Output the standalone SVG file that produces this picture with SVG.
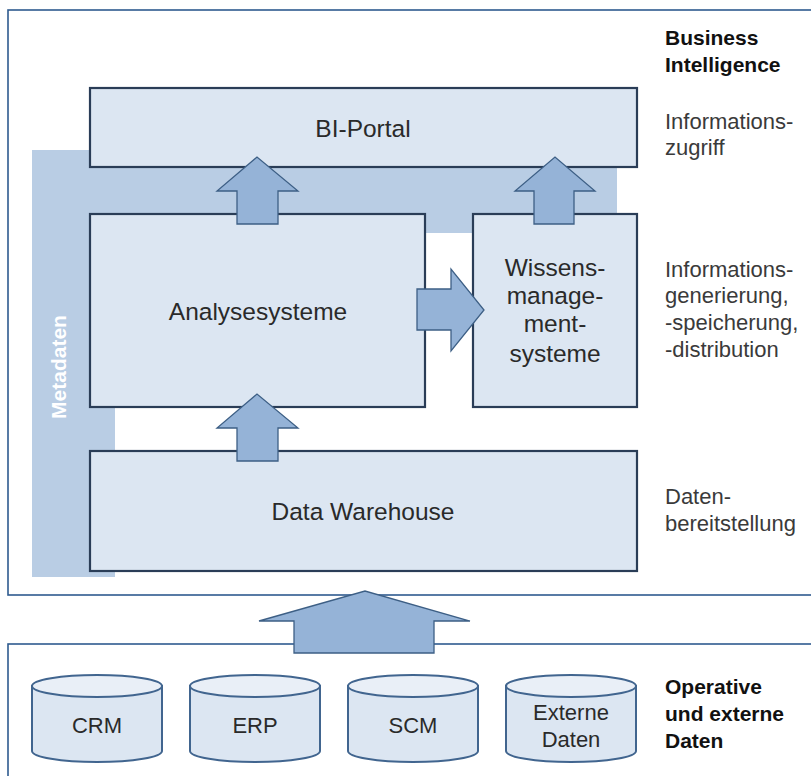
<svg xmlns="http://www.w3.org/2000/svg" width="811" height="776" viewBox="0 0 811 776">
<style>
.frame{fill:#fff;stroke:#2f5b8f;stroke-width:1.6}
.box{fill:#dce6f2;stroke:#2a3d57;stroke-width:2.2}
.meta{fill:#b9cde4}
.arr{fill:#95b3d7;stroke:#3d5f85;stroke-width:1.3;stroke-linejoin:miter}
.cyl{fill:#dce6f2;stroke:#41658f;stroke-width:2}
.cyltop{fill:#e9eff7;stroke:#41658f;stroke-width:2}
.t{font-family:"Liberation Sans",Arial,sans-serif;fill:#2a2a2a;font-size:24.5px;text-anchor:middle}
.c{font-family:"Liberation Sans",Arial,sans-serif;fill:#2a2a2a;font-size:22px;text-anchor:middle}
.lbl{font-family:"Liberation Sans",Arial,sans-serif;fill:#3a3a3a;font-size:22px}
.hd{font-family:"Liberation Sans",Arial,sans-serif;fill:#111;font-size:21px;font-weight:bold}
.mt{font-family:"Liberation Sans",Arial,sans-serif;fill:#fff;font-size:21px;font-weight:bold;text-anchor:middle}
</style>
<rect width="811" height="776" fill="#fff"/>
<rect class="frame" x="8" y="10" width="810" height="585"/>
<rect class="frame" x="8" y="644" width="810" height="140"/>
<g id="metadaten">
<path class="meta" d="M32 150 H617 V233 H115 V577 H32 Z"/>
<text class="mt" transform="translate(66,367) rotate(-90)">Metadaten</text>
</g>
<g id="bi-portal">
<rect class="box" x="90" y="88" width="547" height="79"/>
<text class="t" x="363" y="137">BI-Portal</text>
</g>
<g id="analysesysteme">
<rect class="box" x="90" y="214" width="335" height="193"/>
<text class="t" x="258" y="320">Analysesysteme</text>
</g>
<g id="wissensmanagementsysteme">
<rect class="box" x="473" y="214" width="164" height="193"/>
<text class="t" x="555" y="276">Wissens-</text>
<text class="t" x="555" y="304">manage-</text>
<text class="t" x="555" y="332">ment-</text>
<text class="t" x="555" y="362">systeme</text>
</g>
<g id="data-warehouse">
<rect class="box" x="90" y="451" width="547" height="120"/>
<text class="t" x="363" y="520">Data Warehouse</text>
</g>
<g id="connectors">
<path class="arr" d="M237 224 V191 H217 L257 157 L298 191 H278 V224 Z"/>
<path class="arr" d="M534 224 V191 H515 L555 157 L595 191 H574 V224 Z"/>
<path class="arr" d="M237 461 V428 H217 L257 394 L298 428 H278 V461 Z"/>
<path class="arr" d="M417 289 H451 V269 L484 310 L451 351 V330 H417 Z"/>
<path class="arr" d="M294 653 V621 H259 L365 591 L470 621 H434 V653 Z"/>
</g>
<g id="crm">
<path class="cyl" d="M32 686 V751 A65 11 0 0 0 162 751 V686 Z"/>
<ellipse class="cyltop" cx="97" cy="686" rx="65" ry="11"/>
<text class="c" x="97" y="733">CRM</text>
</g>
<g id="erp">
<path class="cyl" d="M190 686 V751 A65 11 0 0 0 320 751 V686 Z"/>
<ellipse class="cyltop" cx="255" cy="686" rx="65" ry="11"/>
<text class="c" x="255" y="733">ERP</text>
</g>
<g id="scm">
<path class="cyl" d="M348 686 V751 A65 11 0 0 0 478 751 V686 Z"/>
<ellipse class="cyltop" cx="413" cy="686" rx="65" ry="11"/>
<text class="c" x="413" y="733">SCM</text>
</g>
<g id="externe-daten">
<path class="cyl" d="M506 686 V751 A65 11 0 0 0 636 751 V686 Z"/>
<ellipse class="cyltop" cx="571" cy="686" rx="65" ry="11"/>
<text class="c" x="571" y="720">Externe</text>
<text class="c" x="571" y="747">Daten</text>
</g>
<g id="labels">
<text class="hd" x="665" y="45">Business</text>
<text class="hd" x="665" y="72">Intelligence</text>
<text class="lbl" x="665" y="129">Informations-</text>
<text class="lbl" x="665" y="155">zugriff</text>
<text class="lbl" x="665" y="277">Informations-</text>
<text class="lbl" x="665" y="303">generierung,</text>
<text class="lbl" x="665" y="330">-speicherung,</text>
<text class="lbl" x="665" y="357">-distribution</text>
<text class="lbl" x="665" y="504">Daten-</text>
<text class="lbl" x="665" y="531">bereitstellung</text>
<text class="hd" x="665" y="694">Operative</text>
<text class="hd" x="665" y="721">und externe</text>
<text class="hd" x="665" y="748">Daten</text>
</g>
</svg>
